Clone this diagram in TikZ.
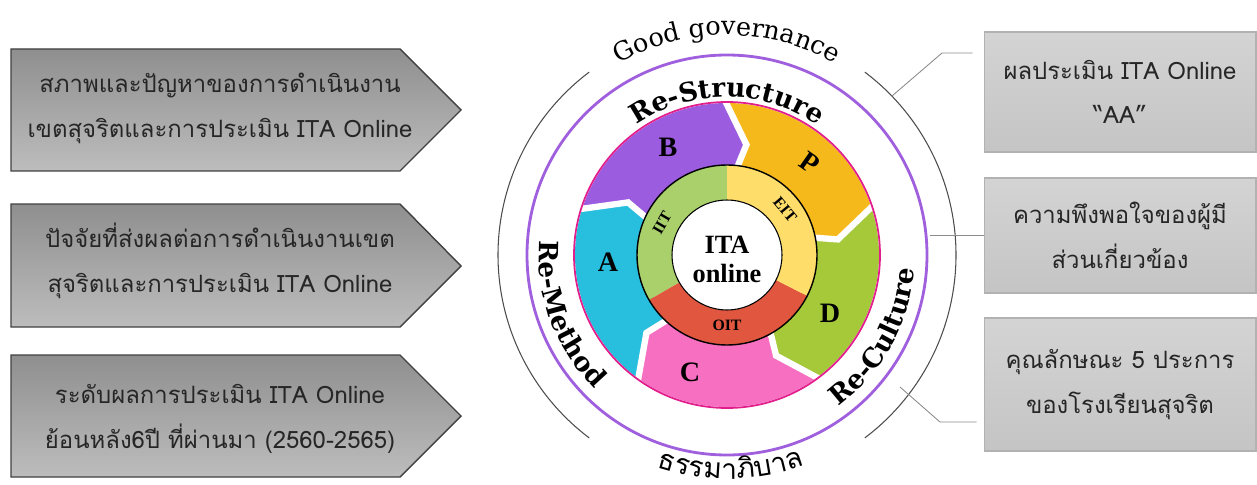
\documentclass[tikz,border=0pt]{standalone}
\usepackage{fontspec}
\setmainfont{Loma}[Script=Thai]
\newfontfamily\thaifont[Script=Thai]{Loma}
\newfontfamily\dvserif{DejaVu Serif}
\newfontfamily\lbserif{Liberation Serif}
\usetikzlibrary{decorations.text}

\definecolor{segB}{RGB}{156,92,224}
\definecolor{segP}{RGB}{246,185,28}
\definecolor{segD}{RGB}{166,201,58}
\definecolor{segC}{RGB}{246,111,192}
\definecolor{segA}{RGB}{40,190,222}
\definecolor{ringG}{RGB}{169,208,107}
\definecolor{ringY}{RGB}{254,221,106}
\definecolor{ringR}{RGB}{225,86,63}
\definecolor{ringPurple}{RGB}{160,96,222}
\definecolor{ringPink}{RGB}{226,30,140}

\newcommand\govfont{\dvserif\fontsize{14.5}{17}\selectfont}
\newcommand\rebold{\dvserif\bfseries\fontsize{15}{18}\selectfont}
\newcommand\thaiarc{\thaifont\fontsize{16}{18}\selectfont}

\tikzset{
  arrowshape/.style={draw=black!75, line width=0.8pt, top color=black!44, bottom color=black!26},
  boxtext/.style={align=center, text=black!85, font=\fontsize{13.6}{25.5}\selectfont},
  resbox/.style={draw=black!30, line width=0.6pt, top color=black!17, bottom color=black!23,
    minimum width=5.44cm, align=center, text=black!85, font=\fontsize{13.6}{25.5}\selectfont},
  link/.style={draw=black!45, line width=0.5pt},
  rim/.style={draw=black!70, line width=0.6pt},
  segcut/.style={draw=white, line width=3.6pt},
  seglabel/.style={font=\lbserif\bfseries\fontsize{16}{18}\selectfont},
  ringlabel/.style={font=\lbserif\bfseries\fontsize{9}{10}\selectfont},
}

\begin{document}
\begin{tikzpicture}[x=0.02cm, y=0.02cm]
\useasboundingbox (0,0) rectangle (1257,484);

\draw[arrowshape] (11,435)--(400,435)--(461,374)--(400,313)--(11,313)--cycle;
\draw[arrowshape] (11,280)--(400,280)--(461,218)--(400,157)--(11,157)--cycle;
\draw[arrowshape] (11,129)--(400,129)--(461,68)--(400,7)--(11,7)--cycle;
\node[boxtext] (cond1) at (220,376) {สภาพและปัญหาของการดำเนินงาน\\เขตสุจริตและการประเมิน ITA Online};
\node[boxtext] (cond2) at (220,223) {ปัจจัยที่ส่งผลต่อการดำเนินงานเขต\\สุจริตและการประเมิน ITA Online};
\node[boxtext] (cond3) at (220,65) {ระดับผลการประเมิน ITA Online\\ย้อนหลัง6ปี ที่ผ่านมา (2560-2565)};

\begin{scope}[shift={(727,229)}]
  \fill[segB] (163:152) arc[start angle=163, end angle=91, radius=152] -- (80:112) -- (85:84) arc[start angle=85, end angle=157, radius=84] -- (152:112) -- cycle;
  \fill[segP] (91:152) arc[start angle=91, end angle=19, radius=152] -- (8:112) -- (13:84) arc[start angle=13, end angle=85, radius=84] -- (80:112) -- cycle;
  \fill[segD] (19:152) arc[start angle=19, end angle=-53, radius=152] -- (-64:112) -- (-59:84) arc[start angle=-59, end angle=13, radius=84] -- (8:112) -- cycle;
  \fill[segC] (-53:152) arc[start angle=-53, end angle=-125, radius=152] -- (-136:112) -- (-131:84) arc[start angle=-131, end angle=-59, radius=84] -- (-64:112) -- cycle;
  \fill[segA] (-125:152) arc[start angle=-125, end angle=-197, radius=152] -- (-208:112) -- (-203:84) arc[start angle=-203, end angle=-131, radius=84] -- (-136:112) -- cycle;
  \draw[segcut] (163:156) -- (152:112) -- (157:80);
  \draw[segcut] (91:156) -- (80:112) -- (85:80);
  \draw[segcut] (19:156) -- (8:112) -- (13:80);
  \draw[segcut] (-53:156) -- (-64:112) -- (-59:80);
  \draw[segcut] (-125:156) -- (-136:112) -- (-131:80);
  \draw[ringPink, line width=1pt] (0,0) circle[radius=153];
  \draw[ringPurple, line width=1.6pt] (0,0) circle[radius=200];

  \fill[ringG] (90:90) arc[start angle=90, end angle=210, radius=90] -- (210:55) arc[start angle=210, end angle=90, radius=55] -- cycle;
  \fill[ringR] (210:90) arc[start angle=210, end angle=333, radius=90] -- (333:55) arc[start angle=333, end angle=210, radius=55] -- cycle;
  \fill[ringY] (333:90) arc[start angle=333, end angle=450, radius=90] -- (450:55) arc[start angle=450, end angle=333, radius=55] -- cycle;
  \draw[line width=0.8pt] (0,0) circle[radius=90];
  \draw[line width=0.6pt, fill=white] (0,0) circle[radius=55];

  \node[seglabel] (labB) at (-59,108) {B};
  \node[seglabel, rotate=-35] (labP) at (83,92) {P};
  \node[seglabel] (labD) at (103,-58) {D};
  \node[seglabel] (labC) at (-37,-117) {C};
  \node[seglabel] (labA) at (-119,-7) {A};
  \node[ringlabel, rotate=60] (iit) at (-65,32) {IIT};
  \node[ringlabel, rotate=-50] (eit) at (58,45) {EIT};
  \node[ringlabel] (oit) at (0,-70) {OIT};
  \node[align=center, font=\lbserif\bfseries\fontsize{15}{16.5}\selectfont] (ita) at (0,-4) {ITA\\online};

  \draw[rim] (127:229) arc[start angle=127, end angle=233, radius=229];
  \draw[rim] (53:229) arc[start angle=53, end angle=-53, radius=229];

  \path[decorate, decoration={text along path, text align=center, text={|\govfont|Good governance}}] (135:220) arc[start angle=135, end angle=45, radius=220];
  \path[decorate, decoration={text along path, text align=center, text={|\rebold|Re-Structure}}] (135:158) arc[start angle=135, end angle=45, radius=158];
  \path[decorate, decoration={text along path, text align=center, text={|\rebold|Re-Method}}] (155:188) arc[start angle=155, end angle=246, radius=188];
  \path[decorate, decoration={text along path, text align=center, text={|\rebold|Re-Culture}}] (-74:188) arc[start angle=-74, end angle=16, radius=188];
  \path[decorate, decoration={text along path, text align=center, text={|\thaiarc|ธรรมา{ภิ}บาล}}] (240:224) arc[start angle=240, end angle=302, radius=224];
\end{scope}

\node[resbox, minimum height=2.4cm] (res1) at (1120,392) {ผลประเมิน ITA Online\\“AA”};
\node[resbox, minimum height=2.3cm] (res2) at (1120,248.5) {ความพึงพอใจของผู้มี\\ส่วนเกี่ยวข้อง};
\node[resbox, minimum height=2.66cm] (res3) at (1120,99.5) {คุณลักษณะ 5 ประการ\\ของโรงเรียนสุจริต};

\coordinate (k1) at (942,431);
\coordinate (g1) at (892,388);
\coordinate (g2) at (930,248.5);
\coordinate (k3) at (940,62);
\coordinate (g3) at (900,97);
\draw[link] (res1.west |- k1) ++(-11,0) -- (k1) -- (g1);
\draw[link] (res2.west) -- (g2);
\draw[link] (res3.west |- k3) ++(-7,0) -- (k3) -- (g3);
\end{tikzpicture}
\end{document}
